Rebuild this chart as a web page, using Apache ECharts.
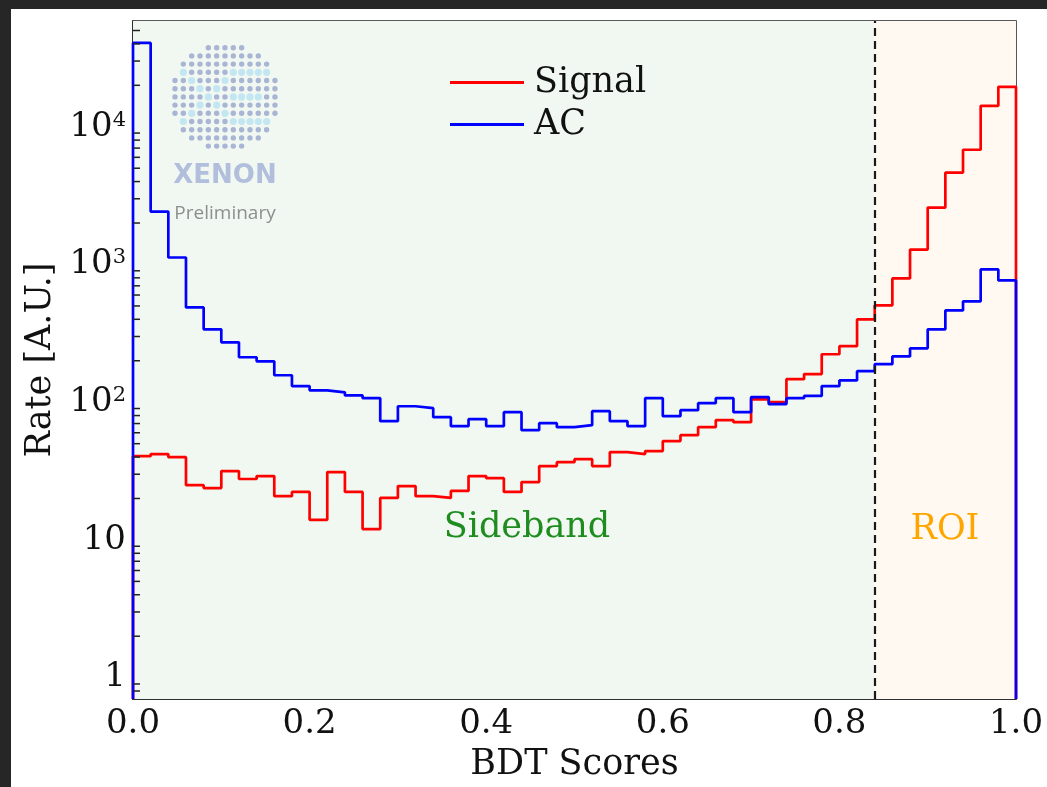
<!DOCTYPE html>
<html>
<head>
<meta charset="utf-8">
<script src="https://cdn.jsdelivr.net/npm/echarts@6/dist/echarts.min.js"></script>
<style>
  html, body { margin: 0; padding: 0; background: #262626; width: 1047px; height: 787px; overflow: hidden; }
  #chart { position: absolute; left: 11px; top: 9px; width: 1036px; height: 778px; background: #ffffff; }
</style>
</head>
<body>
<div id="chart"></div>
<script>
// Histogram bin edges on the BDT score axis (50 bins)
const binEdges = [
  0.00, 0.02, 0.04, 0.06, 0.08, 0.10, 0.12, 0.14, 0.16, 0.18,
  0.20, 0.22, 0.24, 0.26, 0.28, 0.30, 0.32, 0.34, 0.36, 0.38,
  0.40, 0.42, 0.44, 0.46, 0.48, 0.50, 0.52, 0.54, 0.56, 0.58,
  0.60, 0.62, 0.64, 0.66, 0.68, 0.70, 0.72, 0.74, 0.76, 0.78,
  0.80, 0.82, 0.84, 0.86, 0.88, 0.90, 0.92, 0.94, 0.96, 0.98, 1.00
];

// Rate per bin, Signal sample
const signalRate = [
  40.6, 42.0, 39.9, 25.0, 23.8, 31.6, 27.7, 29.1, 20.8, 22.3,
  14.0, 31.1, 22.3, 12.0, 20.2, 24.6, 20.8, 20.2, 22.7, 29.1,
  28.1, 22.3, 26.3, 34.4, 36.7, 38.6, 34.4, 43.4, 42.0, 44.2,
  52.2, 57.6, 65.9, 74.1, 71.6, 105, 100, 147, 160, 223,
  255, 399, 505, 792, 1284, 2588, 4645, 6810, 14200, 19500
];

// Rate per bin, AC background sample
const acRate = [
  40600, 2420, 1124, 488, 338, 272, 212, 198, 157, 131,
  122, 118, 112, 107, 72.8, 93.5, 90.5, 77.9, 67.0, 75.3,
  67.0, 84.7, 62.7, 70.4, 65.9, 68.1, 86.1, 72.8, 67.0, 107,
  79.2, 87.5, 98.4, 107, 84.7, 109, 96.8, 107, 111, 131,
  144, 168, 189, 215, 246, 338, 464, 540, 920, 766
];

// Axis settings
const X_TICKS = [0.0, 0.2, 0.4, 0.6, 0.8, 1.0];
const Y_MIN = 0.7;
const Y_MAX = 58600;
const ROI_CUT = 0.84;
const minorTickValues = [
  0.8, 0.9,
  2, 3, 4, 5, 6, 7, 8, 9,
  20, 30, 40, 50, 60, 70, 80, 90,
  200, 300, 400, 500, 600, 700, 800, 900,
  2000, 3000, 4000, 5000, 6000, 7000, 8000, 9000,
  20000, 30000, 40000, 50000
];

const SERIF = '"DejaVu Serif", "Liberation Serif", serif';
const INK = '#111111';

// Outline of a step histogram: rises from the floor at the first edge,
// runs across every bin and drops back to the floor at the last edge.
function stepOutline(values) {
  const pts = [[binEdges[0], Y_MIN]];
  values.forEach((v, i) => pts.push([binEdges[i], v]));
  pts.push([binEdges[binEdges.length - 1], values[values.length - 1]]);
  pts.push([binEdges[binEdges.length - 1], Y_MIN]);
  return pts;
}

// XENON watermark: dot matrix disc with an "X" and bars highlighted
const LOGO_X0 = 164, LOGO_Y0 = 38.7, LOGO_DX = 8.33, LOGO_DY = 8.2;
const logoHighlight = [
  [3,1],[4,2],[5,3],[6,4],[7,5],[8,6],[9,7],
  [3,7],[4,6],[5,5],[7,3],[8,2],[9,1],
  [3,8],[3,9],[3,10],[3,11],
  [6,7],[6,8],[6,9],[6,10],
  [9,8],[9,9],[9,10],[9,11]
];
function logoElements() {
  const els = [];
  const lit = new Set(logoHighlight.map(p => p[0] + ',' + p[1]));
  for (let r = 0; r < 13; r++) {
    for (let c = 0; c < 13; c++) {
      if ((r - 6) * (r - 6) + (c - 6) * (c - 6) > 44.9) continue;
      const on = lit.has(r + ',' + c);
      els.push({
        type: 'circle', silent: true, z: 5,
        shape: { cx: LOGO_X0 + c * LOGO_DX, cy: LOGO_Y0 + r * LOGO_DY, r: on ? 3.6 : 2.7 },
        style: { fill: on ? '#c3e6f3' : '#a9b5d4' }
      });
    }
  }
  els.push({
    type: 'text', silent: true, z: 5,
    style: { text: 'XENON', x: 214, y: 167, fill: '#b1bedc',
      font: 'bold 26px "DejaVu Sans", sans-serif', align: 'center', verticalAlign: 'middle',
      textAlign: 'center', textVerticalAlign: 'middle' }
  });
  els.push({
    type: 'text', silent: true, z: 5,
    style: { text: 'Preliminary', x: 214, y: 205, fill: '#8e8e8e',
      font: '19px "Open Sans", sans-serif', align: 'center', verticalAlign: 'middle',
      textAlign: 'center', textVerticalAlign: 'middle' }
  });
  return els;
}

function yLabel(v) {
  const e = Math.round(Math.log10(v));
  if (e === 0) return '{b|1}';
  if (e === 1) return '{b|10}';
  return '{b|10}{s|' + e + '}';
}

const chart = echarts.init(document.getElementById('chart'), null, { renderer: 'canvas' });

chart.setOption({
  animation: false,
  backgroundColor: '#ffffff',
  grid: {
    left: 122, top: 12, right: 31, bottom: 87,
    show: true, borderColor: '#222222', borderWidth: 1.5, backgroundColor: 'transparent'
  },
  legend: {
    data: ['Signal', 'AC'],
    orient: 'vertical',
    left: 434, top: 51,
    icon: 'rect',
    itemWidth: 74, itemHeight: 3, itemGap: 7,
    textStyle: { fontFamily: SERIF, fontSize: 35, color: INK, lineHeight: 35, padding: [0, 0, 0, 5] }
  },
  xAxis: {
    type: 'value', min: X_TICKS[0], max: X_TICKS[X_TICKS.length - 1], interval: 0.2,
    name: 'BDT Scores', nameLocation: 'middle', nameGap: 48,
    nameTextStyle: { fontFamily: SERIF, fontSize: 35, color: INK },
    axisLine: { show: true, lineStyle: { color: '#222222', width: 1.5 } },
    axisTick: { show: true, inside: true, length: 13, lineStyle: { color: '#222222', width: 1.5 } },
    axisLabel: { fontFamily: SERIF, fontSize: 34, color: INK, margin: 8,
      formatter: v => v.toFixed(1) },
    splitLine: { show: false }
  },
  yAxis: {
    type: 'log', logBase: 10, min: Y_MIN, max: Y_MAX,
    name: 'Rate [A.U.]', nameLocation: 'middle', nameGap: 74,
    nameTextStyle: { fontFamily: SERIF, fontSize: 35, color: INK },
    axisLine: { show: true, lineStyle: { color: '#222222', width: 1.5 } },
    axisTick: { show: true, inside: true, length: 13, lineStyle: { color: '#222222', width: 1.5 } },
    axisLabel: {
      showMinLabel: false, showMaxLabel: false, margin: 7,
      formatter: yLabel,
      rich: {
        b: { fontFamily: SERIF, fontSize: 34, lineHeight: 34, color: INK },
        s: { fontFamily: SERIF, fontSize: 21, lineHeight: 21, color: INK, verticalAlign: 'top' }
      }
    },
    splitLine: { show: false }
  },
  graphic: logoElements().concat([
    {
      type: 'text', silent: true, z: 6,
      style: { text: 'Sideband', x: 516, y: 519, fill: '#1e8c1e', font: '35px ' + SERIF,
        align: 'center', verticalAlign: 'middle', textAlign: 'center', textVerticalAlign: 'middle' }
    },
    {
      type: 'text', silent: true, z: 6,
      style: { text: 'ROI', x: 934, y: 521, fill: '#ffa500', font: '35px ' + SERIF,
        align: 'center', verticalAlign: 'middle', textAlign: 'center', textVerticalAlign: 'middle' }
    }
  ]),
  series: [
    {
      name: 'Signal', type: 'line', step: 'end', z: 10,
      data: stepOutline(signalRate),
      color: '#ff0000',
      symbol: 'none', showSymbol: false,
      lineStyle: { color: '#ff0000', width: 2.7 },
      markArea: {
        silent: true,
        data: [
          [{ xAxis: X_TICKS[0], itemStyle: { color: '#f1f8f1' } }, { xAxis: ROI_CUT }],
          [{ xAxis: ROI_CUT, itemStyle: { color: '#fff9f1' } }, { xAxis: X_TICKS[X_TICKS.length - 1] }]
        ]
      }
    },
    {
      name: 'AC', type: 'line', step: 'end', z: 11,
      data: stepOutline(acRate),
      color: '#0000ff',
      symbol: 'none', showSymbol: false,
      lineStyle: { color: '#0000ff', width: 2.7 },
      markLine: {
        silent: true, symbol: 'none', z: 20,
        label: { show: false },
        lineStyle: { color: '#1a1a1a', width: 2.2, type: [8, 5] },
        data: [{ xAxis: ROI_CUT }]
      }
    },
    {
      name: 'minorTicks', type: 'custom', z: 12, silent: true,
      data: minorTickValues.map(v => [X_TICKS[0], v]),
      renderItem: function (params, api) {
        const p = api.coord([api.value(0), api.value(1)]);
        return {
          type: 'line',
          shape: { x1: p[0], y1: p[1], x2: p[0] + 7, y2: p[1] },
          style: { stroke: '#222222', lineWidth: 1.5 }
        };
      }
    }
  ]
});
</script>
</body>
</html>
